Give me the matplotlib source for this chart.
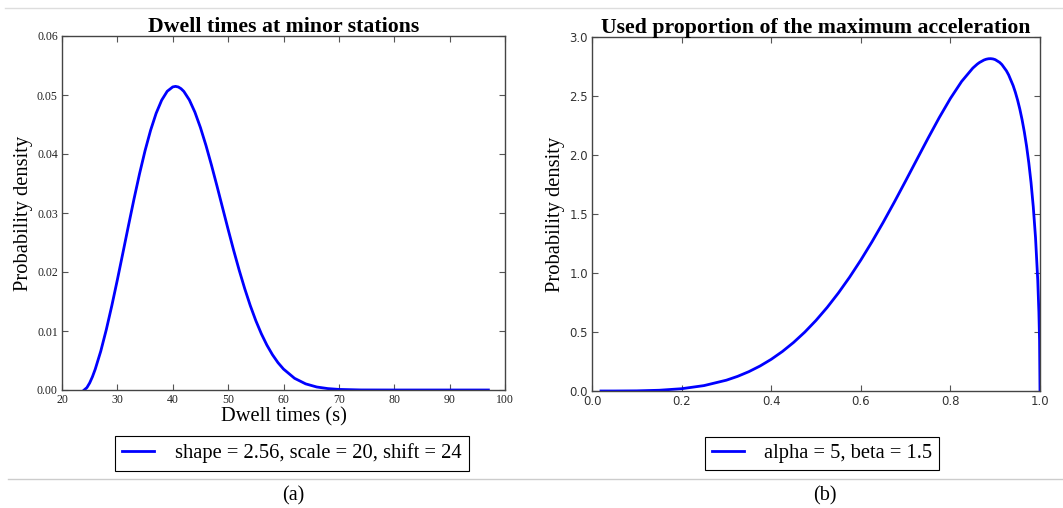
import numpy as np
import matplotlib
matplotlib.use("Agg")
import matplotlib.pyplot as plt
from matplotlib.lines import Line2D

SERIF = "Liberation Serif"

# Dwell times at minor stations: shifted Weibull (shape 2.56, scale 20, shift 24)
dwell_t = [24, 24.5, 25, 25.5, 26, 27, 28, 29, 30, 31, 32, 33, 34, 35, 36, 37,
           38, 39, 40, 40.5, 41, 41.5, 42, 43, 44, 45, 46, 47, 48, 49, 50, 51,
           52, 53, 54, 55, 56, 57, 58, 59, 60, 62, 64, 66, 68, 70, 74, 80, 90, 97]
dwell_pdf = [0.0, 0.00041, 0.00120, 0.00225, 0.00352, 0.00658, 0.01023, 0.01431,
             0.01869, 0.02325, 0.02785, 0.03236, 0.03664, 0.04057, 0.04402,
             0.04690, 0.04912, 0.05063, 0.05137, 0.05146, 0.05136, 0.05107,
             0.05061, 0.04916, 0.04709, 0.04448, 0.04145, 0.03809, 0.03453,
             0.03087, 0.02722, 0.02367, 0.02030, 0.01717, 0.01431, 0.01176,
             0.00953, 0.00761, 0.00599, 0.00464, 0.00355, 0.00198, 0.00104,
             0.00051, 0.00024, 0.00010, 0.00001, 0.0, 0.0, 0.0]
dwell_label = "shape = 2.56, scale = 20, shift = 24"

# Used proportion of max acceleration: Beta(5, 1.5)
accel_x = [0.02, 0.05, 0.10, 0.15, 0.20, 0.25, 0.30, 0.325, 0.35, 0.375, 0.40,
           0.425, 0.45, 0.475, 0.50, 0.525, 0.55, 0.575, 0.60, 0.625, 0.65,
           0.675, 0.70, 0.725, 0.75, 0.775, 0.80, 0.825, 0.85, 0.86, 0.865,
           0.875, 0.88, 0.885, 0.89, 0.895, 0.90, 0.91, 0.915, 0.925, 0.93,
           0.94, 0.945, 0.95, 0.955, 0.96, 0.965, 0.97, 0.975, 0.98, 0.985,
           0.99, 0.995, 0.9975, 0.999, 1.0]
accel_pdf = [0.0, 0.00008, 0.00128, 0.00632, 0.01937, 0.04579, 0.09173, 0.12407,
             0.16375, 0.21160, 0.2684, 0.33485, 0.4116, 0.49925, 0.5982, 0.70866,
             0.8308, 0.96456, 1.1094, 1.26473, 1.4294, 1.60182, 1.780, 1.96099,
             2.1413, 2.3161, 2.4793, 2.6230, 2.7364, 2.77025, 2.78399, 2.805,
             2.81175, 2.81563, 2.8165, 2.81413, 2.8082, 2.7845, 2.76603, 2.7137,
             2.67877, 2.5885, 2.53143, 2.4652, 2.38822, 2.2992, 2.19581, 2.0755,
             1.93395, 1.7656, 1.56039, 1.3002, 0.9381, 0.67001, 0.4272, 0.0]
accel_label = "alpha = 5, beta = 1.5"

W, H = 1063, 508
fig = plt.figure(figsize=(W / 100, H / 100), dpi=100)


def style_axes(ax, tick_font, tick_size, tick_color):
    ax.tick_params(direction="in", top=True, right=True, length=4, width=0.8,
                   labelsize=tick_size, colors="#555555", labelcolor=tick_color,
                   pad=3)
    for lab in ax.get_xticklabels() + ax.get_yticklabels():
        lab.set_fontfamily(tick_font)
    for sp in ax.spines.values():
        sp.set_color("#444444")
        sp.set_linewidth(1.0)


# left panel
ax1 = fig.add_axes([62 / W, 1 - 390 / H, 443 / W, 354 / H])
ax1.plot(dwell_t, dwell_pdf, color="blue", lw=2, label=dwell_label)
ax1.set_xlim(20, 100)
ax1.set_ylim(0, 0.06)
ax1.set_xticks(np.arange(20, 101, 10))
ax1.set_yticks(np.arange(0, 0.061, 0.01))
ax1.yaxis.set_major_formatter(plt.FormatStrFormatter("%.2f"))
style_axes(ax1, SERIF, 8.5, "#222222")
ax1.set_title("Dwell times at minor stations", fontfamily=SERIF,
              fontweight="bold", fontsize=15.7, pad=3)
ax1.set_xlabel("Dwell times (s)", fontfamily=SERIF, fontsize=14.8, labelpad=1)
ax1.set_ylabel("Probability density", fontfamily=SERIF, fontsize=14.8,
               labelpad=3)

# right panel
ax2 = fig.add_axes([592 / W, 1 - 391 / H, 448 / W, 354 / H])
ax2.plot(accel_x, accel_pdf, color="blue", lw=2, label=accel_label)
ax2.set_xlim(0, 1)
ax2.set_ylim(0, 3)
ax2.set_xticks(np.arange(0, 1.01, 0.2))
ax2.set_yticks(np.arange(0, 3.01, 0.5))
ax2.xaxis.set_major_formatter(plt.FormatStrFormatter("%.1f"))
ax2.yaxis.set_major_formatter(plt.FormatStrFormatter("%.1f"))
style_axes(ax2, "DejaVu Sans", 8.5, "#333333")
ax2.set_title("Used proportion of the maximum acceleration", fontfamily=SERIF,
              fontweight="bold", fontsize=15.7, pad=3)
ax2.set_ylabel("Probability density", fontfamily=SERIF, fontsize=14.8,
               labelpad=3)

# legends below each panel
for ax, cx in ((ax1, 292), (ax2, 822)):
    leg = ax.legend(loc="center", bbox_to_anchor=(cx / W, 1 - 453.5 / H),
                    bbox_transform=fig.transFigure, fancybox=False,
                    framealpha=1, edgecolor="black", handlelength=1.55,
                    handletextpad=1.0, borderpad=0.35,
                    prop={"family": SERIF, "size": 14.8})
    leg.get_frame().set_linewidth(0.8)

# separators and sub-captions
fig.add_artist(Line2D([5 / W, 1], [1 - 8 / H] * 2, transform=fig.transFigure,
                      color="#dddddd", lw=1))
fig.add_artist(Line2D([8 / W, 1], [1 - 479 / H] * 2, transform=fig.transFigure,
                      color="#cccccc", lw=1))
fig.text(293 / W, 1 - 496 / H, "(a)", ha="center", va="center",
         fontfamily=SERIF, fontsize=14.5)
fig.text(825 / W, 1 - 496 / H, "(b)", ha="center", va="center",
         fontfamily=SERIF, fontsize=14.5)

fig.savefig("out.png", dpi=100)
